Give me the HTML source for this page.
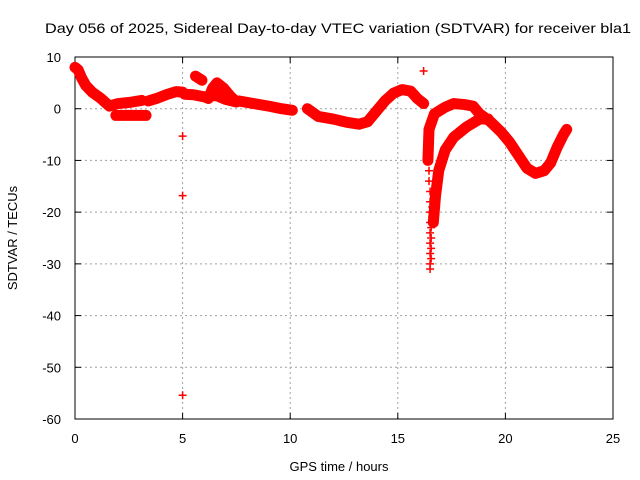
<!DOCTYPE html>
<html><head><meta charset="utf-8"><style>
body{margin:0;background:#fff}
svg{display:block;font-family:"Liberation Sans",sans-serif}
</style></head><body>
<svg id="chart" width="640" height="480">
<text x="338" y="33" text-anchor="middle" font-size="14" textLength="586" lengthAdjust="spacingAndGlyphs">Day 056 of 2025, Sidereal Day-to-day VTEC variation (SDTVAR) for receiver bla1</text>
<g id="grid"></g>
<g id="axes"></g>
<g id="data"></g>
<text x="339" y="471" text-anchor="middle" font-size="13">GPS time / hours</text>
<text transform="translate(17,238) rotate(-90)" text-anchor="middle" font-size="13">SDTVAR / TECUs</text>
</svg>
<script>
const xTicks=[0,5,10,15,20,25];
const yTicks=[10,0,-10,-20,-30,-40,-50,-60];
// series segments: [hour, value] pairs
const segA=[[0,8],[0.15,7.5],[0.3,6],[0.5,4.5],[0.8,3.2],[1.2,2],[1.6,0.5],[2,1],[2.5,1.2],[3.1,1.6]];
const segA2=[[1.9,-1.3],[2.5,-1.3],[3.3,-1.3]];
const segB=[[3.4,1.5],[3.8,2],[4.3,2.8],[4.7,3.3],[5,3.2]];
const segC=[[5.1,2.8],[5.5,2.7],[6.0,2.3],[6.2,2]];
const segC2=[[5.6,6.3],[5.9,5.5]];
const segD=[[6.2,2],[6.4,4],[6.6,5],[6.9,4],[7.2,2.5],[7.5,1.3],[7.0,1.8],[6.6,2.5],[6.4,2.5]];
const segE=[[7.6,1.5],[8.3,1],[9,0.5],[9.6,0],[10.1,-0.3]];
const segF=[[10.8,0],[11.3,-1.5],[12,-2],[12.6,-2.6],[13.2,-3],[13.6,-2.5]];
const segG=[[13.6,-2.5],[14,-0.5],[14.4,1.5],[14.8,3],[15.2,3.7],[15.6,3.4],[15.9,2],[16.2,1]];
const segH=[[16.4,-10],[16.45,-4],[16.7,-1],[17.2,0.3],[17.6,1],[18.1,0.8],[18.5,0.5],[18.8,-1],[19.3,-2.5],[19.8,-4.5],[20.2,-6.5],[20.6,-9],[21.0,-11.5],[21.4,-12.5],[21.8,-12],[22.1,-10.5],[22.4,-7.5],[22.7,-5],[22.85,-4]];
const segI=[[16.65,-22],[16.75,-17],[16.9,-12],[17.2,-8],[17.6,-5.5],[18.2,-3.5],[18.8,-2],[19.2,-2]];
const plusPts=[[5,-5.3],[5,-16.8],[5,-55.4],[16.2,7.3],[16.45,-6],[16.45,-8],[16.45,-10],[16.45,-12],[16.45,-14],[16.5,-16],[16.5,-18],[16.5,-20],[16.5,-22],[16.5,-24],[16.5,-26],[16.5,-28],[16.5,-30],[16.5,-31],[16.6,-19],[16.6,-21],[16.55,-23],[16.55,-25],[16.55,-27],[16.55,-29]];
const segments=[segA,segA2,segB,segC,segC2,segD,segE,segF,segG,segH,segI];

const X0=75,X1=613,Y0=57,Y1=419;
const xs=h=>X0+h/25*(X1-X0);
const ys=v=>Y0+(10-v)/70*(Y1-Y0);
const NS="http://www.w3.org/2000/svg";
function mk(t,p,a){const e=document.createElementNS(NS,t);for(const k in a)e.setAttribute(k,a[k]);p.appendChild(e);return e;}
const grid=document.getElementById('grid'),axes=document.getElementById('axes'),data=document.getElementById('data');
xTicks.forEach(t=>{
  const x=xs(t);
  if(t>0&&t<25){const g=mk('line',grid,{x1:x,x2:x,y1:Y0,y2:Y1,stroke:'#a0a0a0','stroke-dasharray':'2,3'});
  
  }
  mk('line',axes,{x1:x,x2:x,y1:Y1,y2:Y1-6,stroke:'#000'});
  mk('line',axes,{x1:x,x2:x,y1:Y0,y2:Y0+6,stroke:'#000'});
  const l=mk('text',axes,{x:x,y:Y1+24,'text-anchor':'middle','font-size':13});
  l.textContent=t;
  
  
});
yTicks.forEach(t=>{
  const y=ys(t);
  if(t<10&&t>-60){const g=mk('line',grid,{x1:X0,x2:X1,y1:y,y2:y,stroke:'#a0a0a0','stroke-dasharray':'2,3'});
  
  }
  mk('line',axes,{x1:X0,x2:X0+6,y1:y,y2:y,stroke:'#000'});
  mk('line',axes,{x1:X1,x2:X1-6,y1:y,y2:y,stroke:'#000'});
  const l=mk('text',axes,{x:X0-14,y:y+5,'text-anchor':'end','font-size':13});
  l.textContent=t;
  
  
});
const fr=mk('rect',axes,{x:X0,y:Y0,width:X1-X0,height:Y1-Y0,fill:'none',stroke:'#000'});


segments.forEach(s=>{
  const p=mk('polyline',data,{points:s.map(d=>xs(d[0])+','+ys(d[1])).join(' '),fill:'none',stroke:'#f00','stroke-width':11,'stroke-linejoin':'round','stroke-linecap':'round'});
  
  
});
plusPts.forEach(d=>{
  const x=xs(d[0]),y=ys(d[1]);
  const p=mk('path',data,{d:`M${x-4},${y}H${x+4}M${x},${y-4}V${y+4}`,stroke:'#f00','stroke-width':1.5});
  
  
});
</script>
</body></html>
